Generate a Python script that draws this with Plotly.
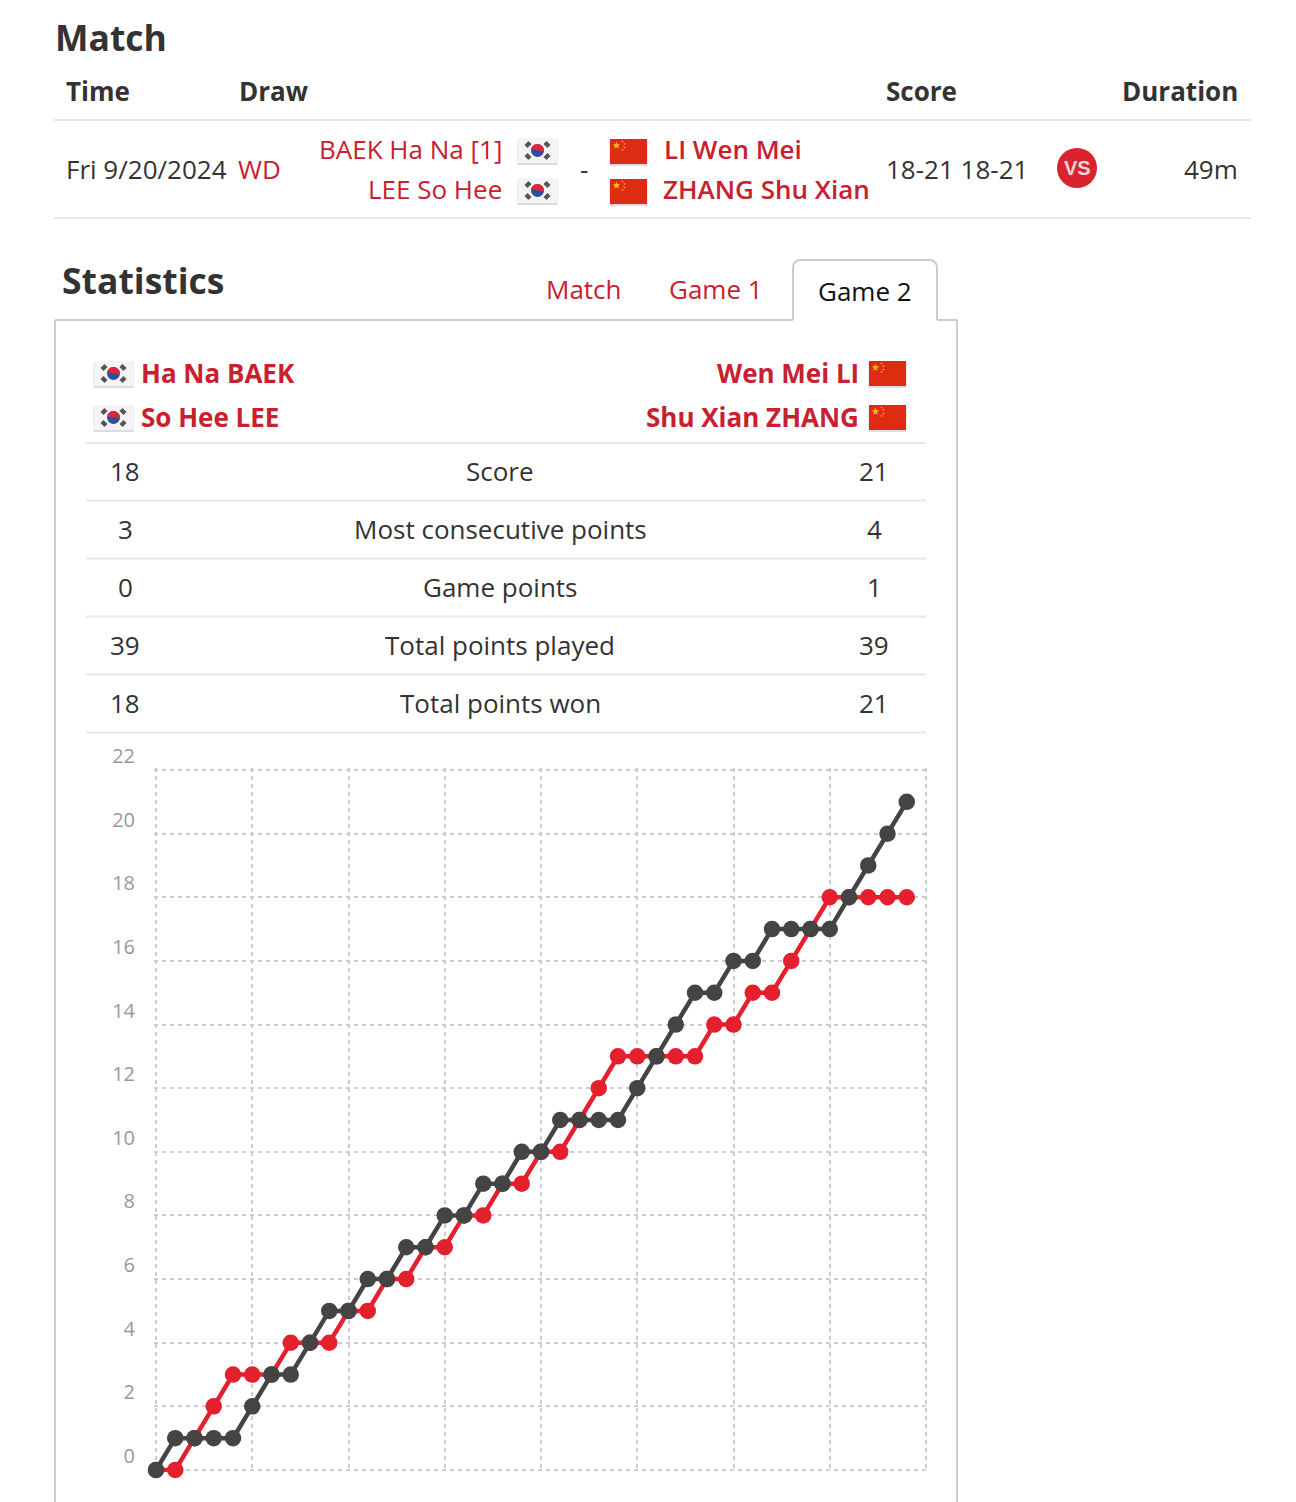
import math
import plotly.graph_objects as go

W, H = 1296, 1502
FONT = "Open Sans"
RED_TEXT = "#c8202f"
DARK_TEXT = "#333333"
SERIES_RED = "#e3202c"
SERIES_DARK = "#444444"

rally = list(range(40))
korea_score = [0, 0, 1, 2, 3, 3, 3, 4, 4, 4, 5, 5, 6, 6, 7, 7, 8, 8, 9, 9,
               10, 10, 11, 12, 13, 13, 13, 13, 13, 14, 14, 15, 15, 16, 17, 18, 18, 18, 18, 18]
china_score = [0, 1, 1, 1, 1, 2, 3, 3, 4, 5, 5, 6, 6, 7, 7, 8, 8, 9, 9, 10,
               10, 11, 11, 11, 11, 12, 13, 14, 15, 15, 16, 16, 17, 17, 17, 17, 18, 19, 20, 21]
y_ticks = list(range(0, 23, 2))
x_ticks = list(range(0, 41, 5))

stat_labels = ["Score", "Most consecutive points", "Game points", "Total points played", "Total points won"]
stat_left = ["18", "3", "0", "39", "18"]
stat_right = ["21", "4", "1", "39", "21"]


def px(x):
    return x / W


def py(y):
    return 1 - y / H


shapes = []
annotations = []


def text(x, y, s, size=26, color=DARK_TEXT, anchor="left", weight=400):
    annotations.append(dict(x=px(x), y=py(y - 1.3), xref="paper", yref="paper", text=s, showarrow=False,
                            xanchor=anchor, yanchor="middle", borderpad=0, borderwidth=0,
                            font=dict(family=FONT, size=size, color=color, weight=weight)))


def line(x0, y0, x1, y1, color="#e8e8e8", width=2):
    shapes.append(dict(type="line", xref="paper", yref="paper", x0=px(x0), y0=py(y0), x1=px(x1), y1=py(y1),
                       line=dict(color=color, width=width)))


def rect(x0, y0, x1, y1, fill):
    shapes.append(dict(type="rect", xref="paper", yref="paper", x0=px(x0), y0=py(y0), x1=px(x1), y1=py(y1),
                       fillcolor=fill, line=dict(width=0)))


def circle(cx, cy, r, fill):
    shapes.append(dict(type="circle", xref="paper", yref="paper", x0=px(cx - r), y0=py(cy - r),
                       x1=px(cx + r), y1=py(cy + r), fillcolor=fill, line=dict(width=0)))


def path(points, fill):
    d = "M " + " L ".join(f"{px(a):.5f} {py(b):.5f}" for a, b in points) + " Z"
    shapes.append(dict(type="path", xref="paper", yref="paper", path=d, fillcolor=fill, line=dict(width=0)))


def star(cx, cy, r, fill="#ffb91f"):
    pts = []
    for k in range(10):
        rr = r if k % 2 == 0 else r * 0.42
        a = -math.pi / 2 + k * math.pi / 5
        pts.append((cx + rr * math.cos(a), cy + rr * math.sin(a)))
    path(pts, fill)


def flag_kr(x0, y0, w=39, h=25):
    rect(x0 - 0.5, y0 + 1, x0 + w + 0.5, y0 + h + 2, "#dcdcdc")
    rect(x0, y0, x0 + w, y0 + h, "#f4f4f4")
    cx, cy = x0 + w / 2, y0 + h / 2
    circle(cx, cy, 6.5, "#2a4fa0")
    pts = [(cx + 6.5 * math.cos(math.pi + 0.2 + t * math.pi / 12), cy + 6.5 * math.sin(math.pi + 0.2 + t * math.pi / 12)) for t in range(13)]
    path(pts, "#d8263a")
    for sx in (-1, 1):
        for sy in (-1, 1):
            ax, ay = cx + sx * 9.5, cy + sy * 6
            dx, dy = 2, -2 * sx * sy
            line(ax - dx, ay - dy, ax + dx, ay + dy, "#555555", 4.5)


def flag_cn(x0, y0, w=37, h=25):
    rect(x0 - 0.5, y0 + 1, x0 + w + 0.5, y0 + h + 2, "#e4dcda")
    rect(x0, y0, x0 + w, y0 + h, "#dd2c12")
    star(x0 + 6.5, y0 + 6.5, 4)
    for ox, oy in ((12.5, 2.5), (14.5, 5), (14.5, 8.5), (12.5, 11)):
        star(x0 + ox, y0 + oy, 1.3)


# Match block
text(55, 38, "Match", 35.5, DARK_TEXT, weight=700)
text(66, 92, "Time", 26, DARK_TEXT, weight=700)
text(239, 92, "Draw", 26, DARK_TEXT, weight=700)
text(886, 92, "Score", 26, DARK_TEXT, weight=700)
text(1238, 92, "Duration", 26, DARK_TEXT, "right", 700)
line(54, 120, 1251, 120)
line(54, 218, 1251, 218)
text(66, 170, "Fri 9/20/2024")
text(238, 170, "WD", 26, RED_TEXT)
text(502, 150, "BAEK Ha Na [1]", 26, RED_TEXT, "right")
text(502, 190, "LEE So Hee", 26, RED_TEXT, "right")
text(584, 170, "-", 26, DARK_TEXT, "center")
text(664, 150, "LI Wen Mei", 26, RED_TEXT, weight=600)
text(663, 190, "ZHANG Shu Xian", 26, RED_TEXT, weight=600)
text(886, 170, "18-21 18-21")
text(1238, 170, "49m", 26, DARK_TEXT, "right")
flag_kr(518, 138)
flag_kr(518, 178)
flag_cn(610, 139)
flag_cn(610, 179)
circle(1077, 168, 20, "#d9232e")
annotations.append(dict(x=px(1077), y=py(168), xref="paper", yref="paper", text="VS", showarrow=False,
                        xanchor="center", yanchor="middle",
                        font=dict(family="Liberation Sans", size=20, color="#f5d5d5", weight=700)))

# Statistics block
text(62, 281, "Statistics", 35.5, DARK_TEXT, weight=700)
text(584, 290, "Match", 26, RED_TEXT, "center")
text(716, 290, "Game 1", 26, RED_TEXT, "center")
text(865, 292, "Game 2", 26, "#111111", "center")
BORDER = "#cccccc"
line(55, 320, 793, 320, BORDER)
line(937, 320, 957, 320, BORDER)
line(55, 320, 55, 1502, BORDER)
line(957, 320, 957, 1502, BORDER)
shapes.append(dict(type="path", xref="paper", yref="paper",
                   path=(f"M {px(793)} {py(320)} L {px(793)} {py(268)} Q {px(793)} {py(260)} {px(801)} {py(260)} "
                         f"L {px(929)} {py(260)} Q {px(937)} {py(260)} {px(937)} {py(268)} L {px(937)} {py(320)}"),
                   line=dict(color=BORDER, width=2)))

flag_kr(94, 361)
flag_kr(94, 405)
flag_cn(869, 361)
flag_cn(869, 405)
text(141, 374, "Ha Na BAEK", 26, RED_TEXT, weight=700)
text(141, 418, "So Hee LEE", 26, RED_TEXT, weight=700)
text(859, 374, "Wen Mei LI", 26, RED_TEXT, "right", 700)
text(859, 418, "Shu Xian ZHANG", 26, RED_TEXT, "right", 700)

line(86, 443, 926, 443)
for i, label in enumerate(stat_labels):
    yc = 472 + i * 58
    text(125, yc, stat_left[i], 26, DARK_TEXT, "center")
    text(500, yc, label, 26, DARK_TEXT, "center")
    text(874, yc, stat_right[i], 26, DARK_TEXT, "center")
    line(86, yc + 28.5, 926, yc + 28.5)

fig = go.Figure()
fig.add_trace(go.Scatter(x=rally, y=korea_score, mode="lines+markers", cliponaxis=False, name="Korea",
                         line=dict(color=SERIES_RED, width=4.5), marker=dict(color=SERIES_RED, size=16.5)))
fig.add_trace(go.Scatter(x=rally, y=china_score, mode="lines+markers", cliponaxis=False, name="China",
                         line=dict(color=SERIES_DARK, width=4.5), marker=dict(color=SERIES_DARK, size=16.5)))

GRID = dict(showgrid=True, gridcolor="#cccccc", gridwidth=2, griddash="4px,4px", zeroline=False,
            showline=False, automargin=False)
# the axes run a couple of pixels past the outer gridlines so those lines stay drawn
EDGE = 2
x_unit = (926 - 156) / 40
y_unit = (1470 - 770) / 22
fig.update_layout(
    width=W, height=H, margin=dict(l=0, r=0, t=0, b=0, pad=0), autosize=False,
    paper_bgcolor="white", plot_bgcolor="white", showlegend=False,
    font=dict(family=FONT, color=DARK_TEXT),
    xaxis=dict(domain=[px(156 - EDGE), px(926 + EDGE)], range=[-EDGE / x_unit, 40 + EDGE / x_unit],
               tickmode="array", tickvals=x_ticks, showticklabels=False, ticks="", **GRID),
    yaxis=dict(domain=[py(1470 + EDGE), py(770 - EDGE)], range=[-EDGE / y_unit, 22 + EDGE / y_unit],
               tickmode="array", tickvals=y_ticks, ticktext=[str(v) for v in y_ticks], ticks="",
               ticklabelposition="outside top", ticklabelstandoff=18,
               tickfont=dict(family=FONT, size=20, color="#999999"), **GRID),
    shapes=shapes, annotations=annotations,
)

fig.write_html("out.html", config={"displayModeBar": False},
               post_script="document.body.style.margin='0';document.body.style.overflow='hidden';")
